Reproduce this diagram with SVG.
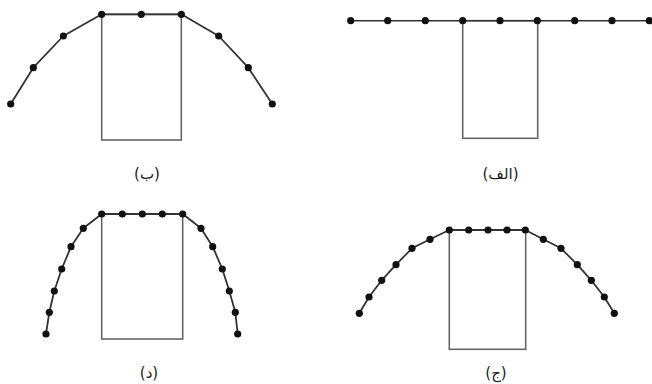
<svg xmlns="http://www.w3.org/2000/svg" width="652" height="384" viewBox="0 0 652 384">
<style>
.rect{fill:none;stroke:#666;stroke-width:1.6}
.cable{fill:none;stroke:#333;stroke-width:1.8;stroke-linejoin:round}
.dot{fill:#111}
.lbl{font-family:"DejaVu Sans",sans-serif;font-size:15px;fill:#222;text-anchor:middle}
</style>
<defs><circle id="d" r="3.6" class="dot"/></defs>
<rect width="652" height="384" fill="#fff"/>
<g id="panel-b">
<rect class="rect" x="101.7" y="14.3" width="79.6" height="125.7"/>
<polyline class="cable" points="10.7,104 33.3,67.7 63.3,36 101.7,14.3 141.3,14.3 181.3,14.3 218.7,36 248.3,67.7 272.3,104"/>
<use href="#d" x="10.7" y="104"/><use href="#d" x="33.3" y="67.7"/><use href="#d" x="63.3" y="36"/>
<use href="#d" x="101.7" y="14.3"/><use href="#d" x="141.3" y="14.3"/><use href="#d" x="181.3" y="14.3"/>
<use href="#d" x="218.7" y="36"/><use href="#d" x="248.3" y="67.7"/><use href="#d" x="272.3" y="104"/>
<text class="lbl" x="147" y="179">(ب)</text>
</g>
<g id="panel-alef">
<rect class="rect" x="462.7" y="20.7" width="75" height="117.6"/>
<line class="cable" x1="350.7" y1="20.7" x2="649.3" y2="20.7" style="stroke-width:1.4"/>
<use href="#d" x="350.7" y="20.7"/><use href="#d" x="387.7" y="20.7"/><use href="#d" x="425.3" y="20.7"/>
<use href="#d" x="462.7" y="20.7"/><use href="#d" x="500" y="20.7"/><use href="#d" x="537.3" y="20.7"/>
<use href="#d" x="574.7" y="20.7"/><use href="#d" x="612" y="20.7"/><use href="#d" x="649.3" y="20.7"/>
<text class="lbl" x="500.5" y="179">(الف)</text>
</g>
<g id="panel-dal">
<rect class="rect" x="101.7" y="214" width="81" height="125"/>
<polyline class="cable" points="46,334 49.3,312.3 54.3,291 61.7,269 71,246.7 83.3,228.3 101.7,214 122.3,214 142.3,214 162.3,214 182.7,214 201,228.3 212.7,246.7 222.3,269 229.3,291 235.3,312.3 237.7,334"/>
<use href="#d" x="46" y="334"/><use href="#d" x="49.3" y="312.3"/><use href="#d" x="54.3" y="291"/>
<use href="#d" x="61.7" y="269"/><use href="#d" x="71" y="246.7"/><use href="#d" x="83.3" y="228.3"/>
<use href="#d" x="101.7" y="214"/><use href="#d" x="122.3" y="214"/><use href="#d" x="142.3" y="214"/>
<use href="#d" x="162.3" y="214"/><use href="#d" x="182.7" y="214"/>
<use href="#d" x="201" y="228.3"/><use href="#d" x="212.7" y="246.7"/><use href="#d" x="222.3" y="269"/>
<use href="#d" x="229.3" y="291"/><use href="#d" x="235.3" y="312.3"/><use href="#d" x="237.7" y="334"/>
<text class="lbl" x="149" y="378">(د)</text>
</g>
<g id="panel-jim">
<rect class="rect" x="449.3" y="230" width="76.4" height="119.3"/>
<polyline class="cable" points="359.3,313.3 369,297 381.7,280.3 396,264.7 412,248.3 430,239.3 449.3,230 468.7,230 488,230 507,230 525.3,230 543.3,239.3 561,248.3 577.3,264.7 591.3,280.3 604.3,297 614.3,313.3"/>
<use href="#d" x="359.3" y="313.3"/><use href="#d" x="369" y="297"/><use href="#d" x="381.7" y="280.3"/>
<use href="#d" x="396" y="264.7"/><use href="#d" x="412" y="248.3"/><use href="#d" x="430" y="239.3"/>
<use href="#d" x="449.3" y="230"/><use href="#d" x="468.7" y="230"/><use href="#d" x="488" y="230"/>
<use href="#d" x="507" y="230"/><use href="#d" x="525.3" y="230"/>
<use href="#d" x="543.3" y="239.3"/><use href="#d" x="561" y="248.3"/><use href="#d" x="577.3" y="264.7"/>
<use href="#d" x="591.3" y="280.3"/><use href="#d" x="604.3" y="297"/><use href="#d" x="614.3" y="313.3"/>
<text class="lbl" x="496" y="378">(ج)</text>
</g>
</svg>
